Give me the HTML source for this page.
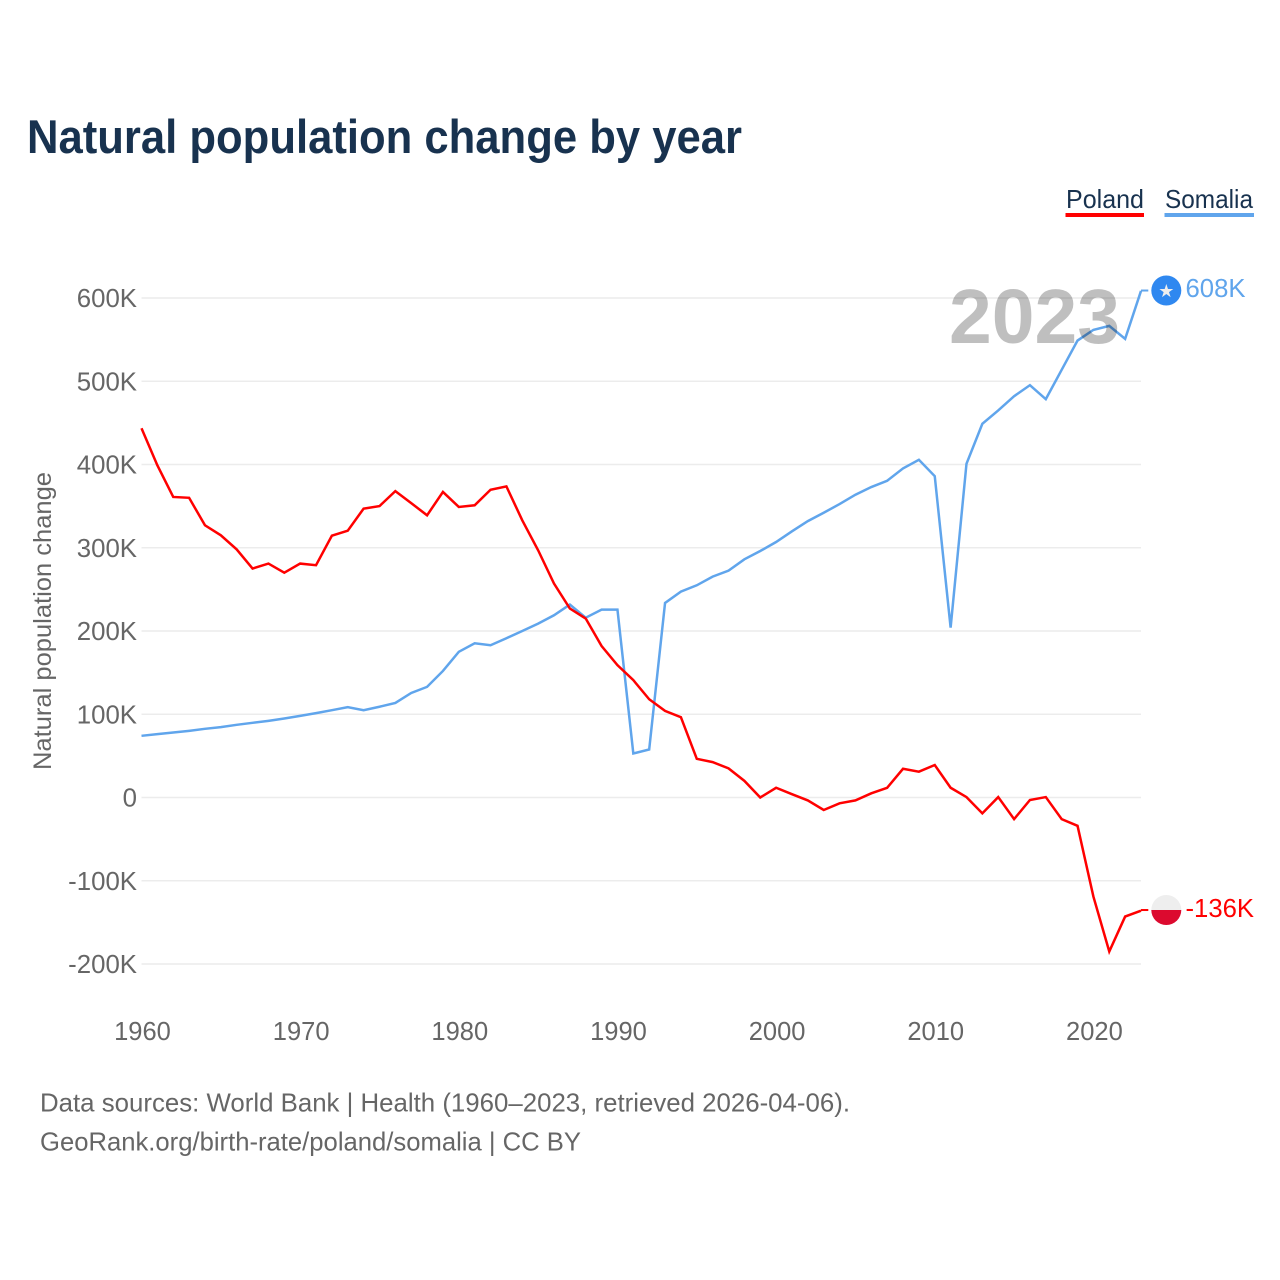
<!DOCTYPE html>
<html lang="en">
<head>
<meta charset="utf-8">
<title>Natural population change by year</title>
<style>
html,body{margin:0;padding:0;background:#fff;width:1280px;height:1280px;overflow:hidden}
svg{display:block}
text{font-family:"Liberation Sans",sans-serif}
</style>
</head>
<body>
<svg id="chart" xmlns="http://www.w3.org/2000/svg" width="1280" height="1280" viewBox="0 0 1280 1280">
  <text x="27" y="153" font-size="47" font-weight="700" fill="#18324f" textLength="715" lengthAdjust="spacingAndGlyphs">Natural population change by year</text>

  <g>
    <g>
      <text x="1066" y="208" font-size="26" fill="#18324f" textLength="78" lengthAdjust="spacingAndGlyphs">Poland</text>
      <rect x="1065.5" y="213" width="78.5" height="4" fill="#ff0000"/>
    </g>
    <g>
      <text x="1165" y="208" font-size="26" fill="#18324f" textLength="88" lengthAdjust="spacingAndGlyphs">Somalia</text>
      <rect x="1164.5" y="213" width="89.5" height="4" fill="#60a5ec"/>
    </g>
  </g>

  <text transform="translate(51,770) rotate(-90)" x="0" y="0" font-size="25" fill="#666666" textLength="298" lengthAdjust="spacingAndGlyphs">Natural population change</text>

  <g id="grid"></g>
  <g id="yticks"></g>
  <g id="xticks"></g>
  <g id="series"></g>

  <text x="949" y="343" font-size="77" font-weight="700" fill="#000000" fill-opacity="0.25" textLength="171" lengthAdjust="spacingAndGlyphs">2023</text>

  <g id="endmarks"></g>

  <text x="40" y="1111.5" font-size="26" fill="#666666" textLength="810" lengthAdjust="spacingAndGlyphs">Data sources: World Bank | Health (1960–2023, retrieved 2026-04-06).</text>
  <text x="40" y="1150.5" font-size="26" fill="#666666" textLength="541" lengthAdjust="spacingAndGlyphs">GeoRank.org/birth-rate/poland/somalia | CC BY</text>
</svg>
<script>
const years = [1960,1961,1962,1963,1964,1965,1966,1967,1968,1969,1970,1971,1972,1973,1974,1975,1976,1977,1978,1979,1980,1981,1982,1983,1984,1985,1986,1987,1988,1989,1990,1991,1992,1993,1994,1995,1996,1997,1998,1999,2000,2001,2002,2003,2004,2005,2006,2007,2008,2009,2010,2011,2012,2013,2014,2015,2016,2017,2018,2019,2020,2021,2022,2023];
const polandValues = [443.6,399,361,360,327,315,298,275,281,270,281,279,314.5,320.5,347,350,368,353.6,339,367,349,351,369.7,373.7,333,297,257,227,215,182,159,141,118,104,96.5,46.5,42.5,35,20,0,11.7,4,-3.5,-15,-7,-3.5,5,11.7,34.5,31,39,11.7,0.5,-19,0.5,-26,-3,0.5,-26,-34,-119,-185,-143,-136];
const somaliaValues = [74.1,76.1,78.1,80.1,82.5,84.5,87.3,89.7,92.1,94.9,98.1,101.3,104.9,108.5,104.9,109,113.6,125.6,132.9,152,175,185.3,182.9,191.3,200,208.9,218.9,231.7,216,225.7,225.7,52.9,57.7,233.7,247.3,254.9,265.3,272.5,286.1,296.1,306.9,319.7,332,342,352.5,363.7,372.9,380.5,395.3,405.7,386,204,400.9,448.9,464.9,482,495.3,478.5,513.7,548.9,561.7,566.5,550.9,608.5];
const yTickValues = [600,500,400,300,200,100,0,-100,-200];
const yTickLabels = ["600K","500K","400K","300K","200K","100K","0","-100K","-200K"];
const xTickValues = [1960,1970,1980,1990,2000,2010,2020];
const xTickLabels = ["1960","1970","1980","1990","2000","2010","2020"];
const polandEndLabel = "-136K";
const somaliaEndLabel = "608K";

const NS = "http://www.w3.org/2000/svg";
function xScale(year){ return 141.5 + (year - 1960) * (999.5 / 63); }
function yScale(v){ return 797.5 - v * 0.8325; }
function make(tag, attrs, parent){
  const el = document.createElementNS(NS, tag);
  for (const k in attrs) el.setAttribute(k, attrs[k]);
  parent.appendChild(el);
  return el;
}
const grid = document.getElementById("grid");
const yticks = document.getElementById("yticks");
const xticks = document.getElementById("xticks");
const series = document.getElementById("series");
const endmarks = document.getElementById("endmarks");

yTickValues.forEach(function(v, i){
  const line = make("line", {x1:xScale(1960), x2:xScale(2023), y1:yScale(v), y2:yScale(v), stroke:"#ececec", "stroke-width":1.6}, grid);
  
  
  const t = make("text", {x:137, y:yScale(v)+9, "text-anchor":"end", "font-size":25.8, fill:"#666666"}, yticks);
  t.textContent = yTickLabels[i];
  
  
});

xTickValues.forEach(function(v, i){
  const t = make("text", {x:xScale(v)+1, y:1040, "text-anchor":"middle", "font-size":25.5, fill:"#666666"}, xticks);
  t.textContent = xTickLabels[i];
  
  
});

function pointsFor(values){
  return values.map(function(v, i){ return xScale(years[i]).toFixed(2) + "," + yScale(v).toFixed(2); }).join(" ");
}
const blueLine = make("polyline", {points:pointsFor(somaliaValues), fill:"none", stroke:"#60a5ec", "stroke-width":2.5, "stroke-linejoin":"miter"}, series);


const redLine = make("polyline", {points:pointsFor(polandValues), fill:"none", stroke:"#ff0000", "stroke-width":2.5, "stroke-linejoin":"miter"}, series);



/* end markers */
const lastX = xScale(2023);
const cx = 1166.3, r = 15;
const sy = yScale(somaliaValues[somaliaValues.length - 1]) - 0.4;
const py = yScale(polandValues[polandValues.length - 1]) - 0.7;

const sLead = make("line", {x1:lastX, x2:cx - r - 3, y1:sy, y2:sy, stroke:"#60a5ec", "stroke-width":2}, endmarks);


const sCircle = make("circle", {cx:cx, cy:sy, r:r, fill:"#2f88f0"}, endmarks);


const sStar = make("text", {x:cx, y:sy + 6.5, "text-anchor":"middle", "font-size":18, fill:"#eeeeee", style:"font-family:'DejaVu Sans',sans-serif"}, endmarks);
sStar.textContent = "★";


const sLabel = make("text", {x:1185.5, y:sy + 6.5, "font-size":25.5, fill:"#60a5ec", textLength:60, lengthAdjust:"spacingAndGlyphs"}, endmarks);
sLabel.textContent = somaliaEndLabel;



const pLead = make("line", {x1:lastX, x2:cx - r - 3, y1:py, y2:py, stroke:"#ff0000", "stroke-width":2}, endmarks);


const pTop = make("path", {d:"M"+(cx-r)+" "+py+"A"+r+" "+r+" 0 0 1 "+(cx+r)+" "+py+"Z", fill:"#eeeeee"}, endmarks);


const pBottom = make("path", {d:"M"+(cx-r)+" "+py+"A"+r+" "+r+" 0 0 0 "+(cx+r)+" "+py+"Z", fill:"#dc0a2f"}, endmarks);


const pLabel = make("text", {x:1185.5, y:py + 7, "font-size":25.5, fill:"#ff0000", textLength:68.5, lengthAdjust:"spacingAndGlyphs"}, endmarks);
pLabel.textContent = polandEndLabel;


</script>
</body>
</html>
